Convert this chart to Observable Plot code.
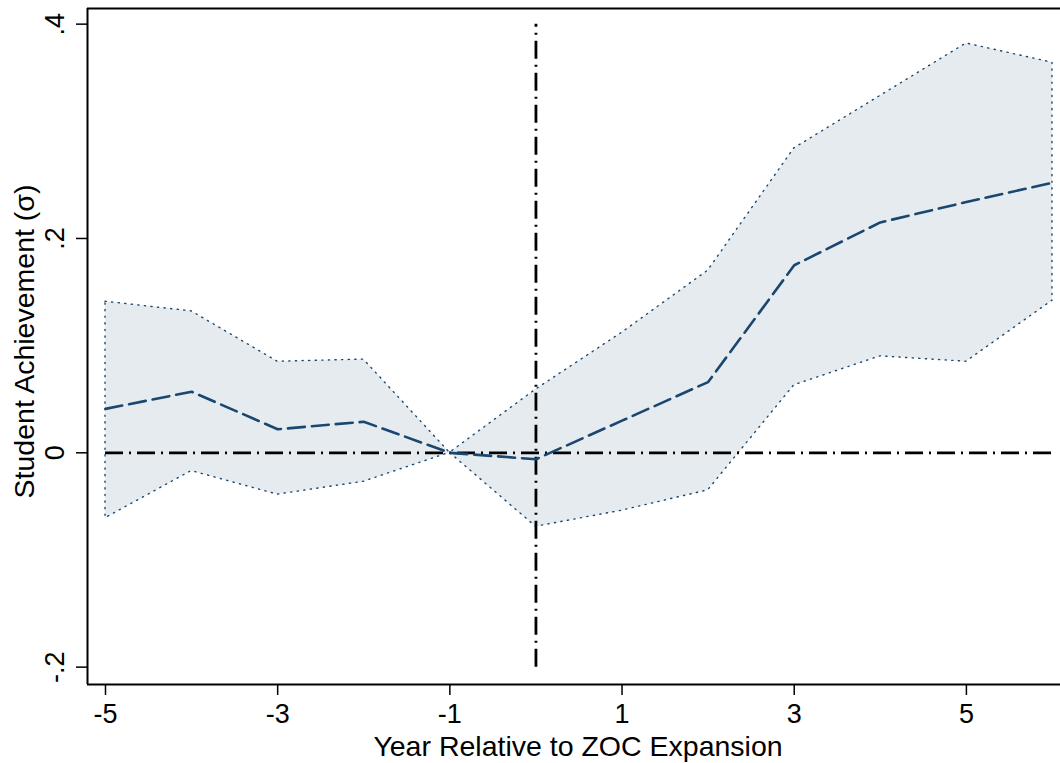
<!DOCTYPE html>
<html>
<head>
<meta charset="utf-8">
<script src="https://cdn.jsdelivr.net/npm/d3@7"></script>
<script src="https://cdn.jsdelivr.net/npm/@observablehq/plot@0.6"></script>
<style>
  html, body { margin: 0; padding: 0; background: #ffffff; }
  #chart svg { display: block; }
</style>
</head>
<body>
<div id="chart"></div>
<script>
// Event-study estimates: year relative to ZOC expansion
const years    = [-5, -4, -3, -2, -1, 0, 1, 2, 3, 4, 5, 6];
const estimate = [0.041, 0.057, 0.022, 0.029, 0, -0.006, 0.030, 0.066, 0.175, 0.215, 0.234, 0.252];
const upper    = [0.141, 0.132, 0.085, 0.087, 0, 0.059, 0.112, 0.170, 0.284, 0.333, 0.382, 0.364];
const lower    = [-0.061, -0.017, -0.039, -0.027, 0, -0.069, -0.054, -0.035, 0.063, 0.090, 0.085, 0.142];

const xTicks = [-5, -3, -1, 1, 3, 5];
const xTickLabels = ["-5", "-3", "-1", "1", "3", "5"];
const yTicks = [-0.2, 0, 0.2, 0.4];
const yTickLabels = ["-.2", "0", ".2", ".4"];

const xLabel = "Year Relative to ZOC Expansion";
const yLabel = "Student Achievement (\u03c3)";

const xDomain = [-5.209, 6.093];
const yDomain = [-0.2162, 0.4146];

const rows = years.map((year, i) => ({year, est: estimate[i], hi: upper[i], lo: lower[i]}));

const navy = "#1a476f";
const bandFill = "#e6ebf0";
const font = "'Liberation Sans', Arial, Helvetica, sans-serif";

const chart = Plot.plot({
  width: 1060,
  height: 763,
  marginLeft: 87,
  marginRight: 0,
  marginTop: 8,
  marginBottom: 79,
  style: {fontFamily: font, background: "#ffffff", color: "#000000"},
  x: {domain: xDomain},
  y: {domain: yDomain},
  marks: [
    // confidence band with dotted outline
    Plot.areaY(rows, {
      x: "year", y1: "lo", y2: "hi",
      fill: bandFill,
      stroke: navy,
      strokeWidth: 1.4,
      strokeDasharray: "1.2,5.4"
    }),
    // reference lines
    Plot.ruleY([0], {x1: -5, x2: 6, stroke: "#000", strokeWidth: 2.8, strokeDasharray: "18,6,2,6"}),
    Plot.ruleX([0], {y1: -0.2, y2: 0.4, stroke: "#000", strokeWidth: 2.8, strokeDasharray: "18,6,2,6"}),
    // point estimates
    Plot.line(rows, {
      x: "year", y: "est",
      stroke: navy,
      strokeWidth: 2.6,
      strokeDasharray: "17,7"
    }),
    // plot region border (left, top, bottom)
    Plot.ruleX([xDomain[0]], {stroke: "#000", strokeWidth: 2}),
    Plot.ruleY([yDomain[0], yDomain[1]], {stroke: "#000", strokeWidth: 2}),
    // axes
    Plot.axisX({
      ticks: xTicks,
      tickFormat: (d) => xTickLabels[xTicks.indexOf(d)],
      tickSize: 11,
      tickPadding: 8,
      fontSize: 27,
      strokeWidth: 1.5,
      label: null
    }),
    Plot.axisY({
      ticks: yTicks,
      tickFormat: (d) => yTickLabels[yTicks.indexOf(d)],
      tickSize: 11,
      tickPadding: 13,
      tickRotate: -90,
      fontSize: 27,
      strokeWidth: 1.5,
      label: null
    }),
    // axis titles
    Plot.text([xLabel], {
      frameAnchor: "bottom",
      textAnchor: "middle",
      dx: 4,
      dy: 71,
      lineAnchor: "bottom",
      fontSize: 28.5,
      fill: "#000"
    }),
    Plot.text([yLabel], {
      frameAnchor: "left",
      textAnchor: "middle",
      dx: -54,
      dy: -5,
      rotate: -90,
      lineAnchor: "bottom",
      fontSize: 28.5,
      fill: "#000"
    })
  ]
});

document.getElementById("chart").appendChild(chart);
</script>
</body>
</html>
